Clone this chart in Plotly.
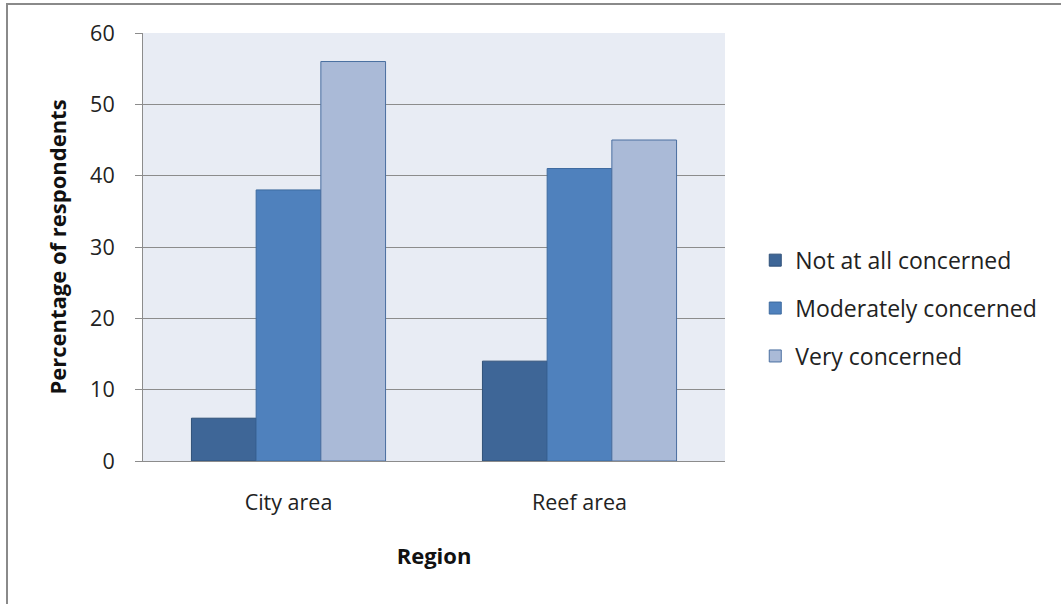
import plotly.graph_objects as go

categories = ["City area", "Reef area"]
series_names = ["Not at all concerned", "Moderately concerned", "Very concerned"]
not_at_all = [6, 14]
moderately = [38, 41]
very = [56, 45]
y_ticks = [0, 10, 20, 30, 40, 50, 60]

values = [not_at_all, moderately, very]
fills = ["#3E6697", "#4F81BD", "#AABAD7"]
edges = ["#2F5078", "#3D6A9F", "#4A6FA0"]

FONT = "'Open Sans', Lato, sans-serif"

fig = go.Figure()
for name, vals, fc, ec in zip(series_names, values, fills, edges):
    fig.add_trace(go.Bar(
        x=categories, y=vals, name=name, legendgroup=name,
        marker=dict(color=fc, line=dict(color=ec, width=1)),
    ))

fig.update_layout(
    width=1061, height=604,
    margin=dict(l=143, r=336, t=33, b=143),
    paper_bgcolor="white",
    plot_bgcolor="#E8ECF4",
    barmode="group",
    bargap=0.333, bargroupgap=0,
    font=dict(family=FONT, size=20, color="#222222"),
    showlegend=True,
    legend=dict(
        x=1.052, xanchor="left", y=0.357, yanchor="middle",
        font=dict(family=FONT, size=23, color="#222222"),
        tracegroupgap=15, bgcolor="rgba(0,0,0,0)",
    ),
    xaxis=dict(
        showgrid=False, showline=True, linecolor="#8C8C8C", linewidth=1,
        ticks="", tickfont=dict(size=21.5, color="#222222"),
        ticklabelstandoff=22,
        title=dict(text="<b>Region</b>", font=dict(size=22, color="#111111"), standoff=33),
        mirror=False,
    ),
    yaxis=dict(
        range=[0, 60], tickvals=y_ticks,
        showgrid=True, gridcolor="#8C8C8C", gridwidth=1,
        showline=True, linecolor="#8C8C8C", linewidth=1,
        ticks="outside", ticklen=7, tickcolor="#8C8C8C",
        tickfont=dict(size=21.5, color="#222222"),
        ticklabelstandoff=16,
        title=dict(text="<b>Percentage of respondents</b>", font=dict(size=22, color="#111111"), standoff=17),
        zeroline=False,
    ),
    shapes=[dict(
        type="rect", xref="paper", yref="paper",
        x0=(7 - 143) / 582, x1=2.0, y0=-1.0, y1=(461 - 4) / 428,
        line=dict(color="#8A8A8A", width=2), fillcolor="rgba(0,0,0,0)", layer="below",
    )],
)

fig.write_html(
    "out.html",
    config={"displayModeBar": False},
    post_script="document.body.style.margin='0';document.body.style.overflow='hidden';",
)
